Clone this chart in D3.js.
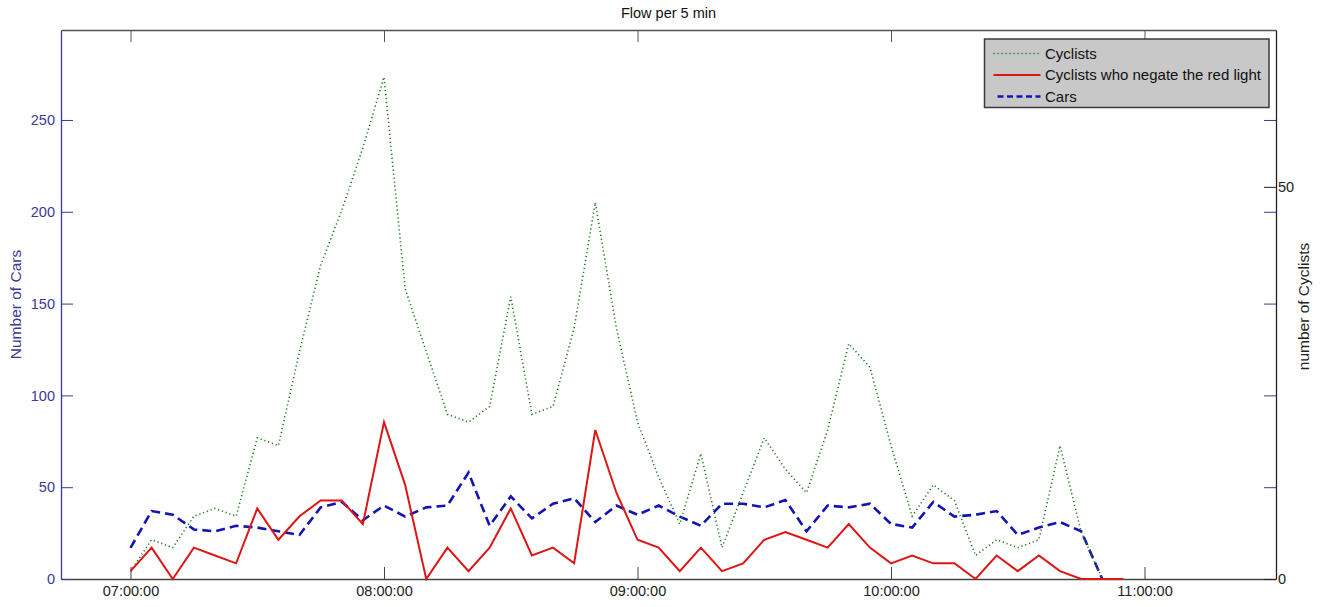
<!DOCTYPE html>
<html>
<head>
<meta charset="utf-8">
<title>Flow per 5 min</title>
<style>
  body { margin: 0; background: #fff; }
  text { font-family: "Liberation Sans", Arial, sans-serif; }
</style>
</head>
<body>
<script src="https://d3js.org/d3.v7.min.js"></script>
<script>
// 5 minute intervals
const times = ["07:00","07:05","07:10","07:15","07:20","07:25","07:30","07:35","07:40","07:45","07:50","07:55",
               "08:00","08:05","08:10","08:15","08:20","08:25","08:30","08:35","08:40","08:45","08:50","08:55",
               "09:00","09:05","09:10","09:15","09:20","09:25","09:30","09:35","09:40","09:45","09:50","09:55",
               "10:00","10:05","10:10","10:15","10:20","10:25","10:30","10:35","10:40","10:45","10:50","10:55"];

// right axis (number of cyclists)
const cyclists = [1,5,4,8,9,8,18,17,29,40,47,55,64,37,29,21,20,22,36,21,22,32,48,32,
                  20,13,7,16,4,11,18,14,11,19,30,27,17,8,12,10,3,5,4,5,17,6,0];
const redLight = [1,4,0,4,3,2,9,5,8,10,10,7,20,12,0,4,1,4,9,3,4,2,19,11,
                  5,4,1,4,1,2,5,6,5,4,7,4,2,3,2,2,0,3,1,3,1,0,0,0];
// left axis (number of cars)
const cars = [17,37,35,27,26,29,28,26,24,39,42,32,40,34,39,40,58,29,45,33,41,44,31,40,
              35,40,34,29,41,41,39,43,26,40,39,41,30,28,42,34,35,37,24,28,31,26,0];

const seriesNames = ["Cyclists", "Cyclists who negate the red light", "Cars"];
const xTicks = ["07:00:00", "08:00:00", "09:00:00", "10:00:00", "11:00:00"];
const carTicks = [0, 50, 100, 150, 200, 250];
const cyclistTicks = [0, 50];

const width = 1330, height = 607;
const plotLeft = 61, plotRight = 1276, plotTop = 30, plotBottom = 579;

const green = "#1d7a1d", red = "#dd1515", blue = "#1414b4";
const leftColor = "#3a3a92";

const svg = d3.select("body").append("svg")
  .attr("width", width)
  .attr("height", height);

const parseHM = d3.timeParse("%H:%M");
const parseHMS = d3.timeParse("%H:%M:%S");

const x = d3.scaleTime()
  .domain([parseHMS("06:43:33"), parseHMS("11:31:07")])
  .range([plotLeft, plotRight]);

const yCars = d3.scaleLinear().domain([0, 299]).range([plotBottom, plotTop]);
const yCyc = d3.scaleLinear().domain([0, 70]).range([plotBottom, plotTop]);

function styleAxis(g, color, fontSize) {
  g.select(".domain").attr("stroke", color).attr("stroke-width", 1.3);
  g.selectAll(".tick line").attr("stroke", color);
  g.selectAll(".tick text")
    .attr("fill", color)
    .style("font-size", fontSize)
    .style("font-family", "'Liberation Sans', Arial, sans-serif");
}

// top and bottom x axes
svg.append("g")
  .attr("transform", `translate(0,${plotTop})`)
  .call(d3.axisTop(x).tickValues(xTicks.map(parseHMS)).tickSize(-12).tickSizeOuter(0).tickFormat(""))
  .call(g => styleAxis(g, "#555", "14.5px"));

svg.append("g")
  .attr("transform", `translate(0,${plotBottom})`)
  .call(d3.axisBottom(x).tickValues(xTicks.map(parseHMS)).tickSize(-12).tickSizeOuter(0)
    .tickPadding(7).tickFormat(d3.timeFormat("%H:%M:%S")))
  .call(g => styleAxis(g, "#444", "14.5px"))
  .call(g => g.selectAll(".tick text").attr("fill", "#222"));

// left axis (cars) and its mirrored ticks on the right
svg.append("g")
  .attr("transform", `translate(${plotLeft},0)`)
  .call(d3.axisLeft(yCars).tickValues(carTicks).tickSize(-12).tickSizeOuter(0).tickPadding(6))
  .call(g => styleAxis(g, leftColor, "14.5px"));

svg.append("g")
  .attr("transform", `translate(${plotRight},0)`)
  .call(d3.axisRight(yCars).tickValues(carTicks).tickSize(-12).tickSizeOuter(0).tickFormat(""))
  .call(g => styleAxis(g, leftColor, "14.5px"))
  .call(g => g.select(".domain").remove());

// right axis (cyclists)
svg.append("g")
  .attr("transform", `translate(${plotRight},0)`)
  .call(d3.axisRight(yCyc).tickValues(cyclistTicks).tickSize(-12).tickSizeOuter(0).tickPadding(2))
  .call(g => styleAxis(g, "#222", "14.5px"));

// lines
const xi = (d, i) => x(parseHM(times[i]));

svg.append("path")
  .datum(cars)
  .attr("fill", "none")
  .attr("stroke", blue)
  .attr("stroke-width", 2.6)
  .attr("stroke-dasharray", "9,5")
  .attr("d", d3.line().x(xi).y(d => yCars(d)));

svg.append("path")
  .datum(cyclists)
  .attr("fill", "none")
  .attr("stroke", green)
  .attr("stroke-width", 1.6)
  .attr("stroke-dasharray", "1.2,2.8")
  .attr("d", d3.line().x(xi).y(d => yCyc(d)));

svg.append("path")
  .datum(redLight)
  .attr("fill", "none")
  .attr("stroke", red)
  .attr("stroke-width", 2)
  .attr("d", d3.line().x(xi).y(d => yCyc(d)));

// title and axis labels
svg.append("text")
  .attr("x", (plotLeft + plotRight) / 2)
  .attr("y", 18)
  .attr("text-anchor", "middle")
  .style("font-size", "14.5px")
  .attr("fill", "#111")
  .text("Flow per 5 min");

svg.append("text")
  .attr("transform", `translate(21,${(plotTop + plotBottom) / 2}) rotate(-90)`)
  .attr("text-anchor", "middle")
  .style("font-size", "15.5px")
  .attr("fill", leftColor)
  .text("Number of Cars");

svg.append("text")
  .attr("transform", `translate(1309,${(plotTop + plotBottom) / 2 + 2}) rotate(-90)`)
  .attr("text-anchor", "middle")
  .style("font-size", "15.5px")
  .attr("fill", "#222")
  .text("number of Cyclists");

// legend
const legend = svg.append("g").attr("transform", "translate(984.5,39)");
legend.append("rect")
  .attr("width", 284.5)
  .attr("height", 68.5)
  .attr("fill", "#c8c8c8")
  .attr("stroke", "#3a3a3a")
  .attr("stroke-width", 1.5);

const legendStyles = [
  { color: green, width: 1.6, dash: "1.2,2.8", x0: 9 },
  { color: red, width: 2, dash: null, x0: 9 },
  { color: blue, width: 2.6, dash: "6,3.5", x0: 13 }
];

seriesNames.forEach((name, i) => {
  const s = legendStyles[i];
  const yRow = 14.5 + i * 21.5;
  legend.append("line")
    .attr("x1", s.x0).attr("x2", 56)
    .attr("y1", yRow).attr("y2", yRow)
    .attr("stroke", s.color)
    .attr("stroke-width", s.width)
    .attr("stroke-dasharray", s.dash);
  legend.append("text")
    .attr("x", 60.5)
    .attr("y", yRow)
    .attr("dy", "0.35em")
    .style("font-size", "15px")
    .attr("fill", "#111")
    .text(name);
});
</script>
</body>
</html>
